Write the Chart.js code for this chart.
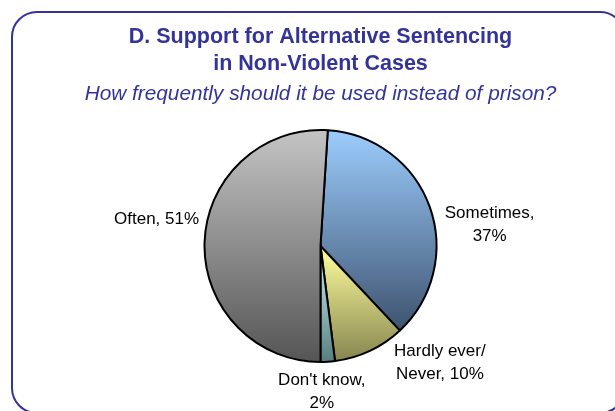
<!DOCTYPE html>
<html>
<head>
<meta charset="utf-8">
<script src="https://cdn.jsdelivr.net/npm/chart.js@4/dist/chart.umd.min.js"></script>
<style>
  html, body { margin:0; padding:0; background:#fff; }
  #wrap { width:615px; height:411px; position:relative; }
</style>
</head>
<body>
<div id="wrap"><canvas id="pie" width="615" height="411"></canvas></div>
<script>
// ── DATA ──
const categories = ['Sometimes', 'Hardly ever/\nNever', "Don't know", 'Often'];
const values = [37, 10, 2, 51];
const valueOnOwnLine = [true, false, true, false];

// ── STYLE ──
const topColors = ['#9CCDFD', '#FFFF9E', '#CFF5F5', '#C4C4C4'];
const bottomColors = ['#3E5370', '#86854F', '#577F7F', '#555555'];
// label block centre, relative to the middle of each slice's outer edge
const labelOffsets = [[60, 18], [70, 12], [-6, 30], [-48, -23]];
const FONT = '"Liberation Sans", Arial, sans-serif';

const frameBox = {
    id: 'frameBox',
    beforeDraw(chart) {
        const ctx = chart.ctx;
        ctx.save();
        ctx.fillStyle = '#fff';
        ctx.fillRect(0, 0, chart.width, chart.height);
        ctx.beginPath();
        ctx.roundRect(12, 12, 613, 401, 25);
        ctx.strokeStyle = '#333399';
        ctx.lineWidth = 2;
        ctx.stroke();
        ctx.restore();
    }
};

// vertical gradient over each slice's own height
const sliceGradients = {
    id: 'sliceGradients',
    beforeDatasetsDraw(chart) {
        const ctx = chart.ctx;
        const TAU = Math.PI * 2;
        chart.getDatasetMeta(0).data.forEach((arc, i) => {
            const {x, y, startAngle, endAngle, outerRadius: r} =
                arc.getProps(['x', 'y', 'startAngle', 'endAngle', 'outerRadius'], true);
            const has = a => {
                let t = a;
                while (t < startAngle) t += TAU;
                while (t - TAU >= startAngle) t -= TAU;
                return t <= endAngle;
            };
            const ys = [y, y + r * Math.sin(startAngle), y + r * Math.sin(endAngle)];
            if (has(-Math.PI / 2)) ys.push(y - r);
            if (has(Math.PI / 2)) ys.push(y + r);
            const g = ctx.createLinearGradient(0, Math.min(...ys), 0, Math.max(...ys));
            g.addColorStop(0, topColors[i]);
            g.addColorStop(1, bottomColors[i]);
            arc.options.backgroundColor = g;
        });
    }
};

const sliceLabels = {
    id: 'sliceLabels',
    afterDatasetsDraw(chart) {
        const ctx = chart.ctx;
        ctx.save();
        ctx.font = '17px ' + FONT;
        ctx.fillStyle = '#000';
        ctx.textAlign = 'center';
        ctx.textBaseline = 'middle';
        const lh = 23;
        chart.getDatasetMeta(0).data.forEach((arc, i) => {
            const {x, y, startAngle, endAngle, outerRadius: r} =
                arc.getProps(['x', 'y', 'startAngle', 'endAngle', 'outerRadius'], true);
            const mid = (startAngle + endAngle) / 2;
            const cx = x + r * Math.cos(mid) + labelOffsets[i][0];
            const cy = y + r * Math.sin(mid) + labelOffsets[i][1];
            const text = categories[i] + ',' + (valueOnOwnLine[i] ? '\n' : ' ') + values[i] + '%';
            const lines = text.split('\n');
            const y0 = cy - (lines.length - 1) * lh / 2;
            lines.forEach((l, k) => ctx.fillText(l, cx, y0 + k * lh));
        });
        ctx.restore();
    }
};

new Chart(document.getElementById('pie'), {
    type: 'pie',
    data: {
        labels: categories.map(c => c.replace('\n', ' ')),
        datasets: [{
            data: values,
            backgroundColor: topColors.slice(),
            borderColor: '#000',
            borderWidth: 2,
            radius: 116
        }]
    },
    options: {
        responsive: false,
        animation: false,
        events: [],
        rotation: 3.6,
        layout: { padding: { left: 26, right: 0, top: 0, bottom: 29 } },
        plugins: {
            legend: { display: false },
            tooltip: { enabled: false },
            title: {
                display: true,
                text: ['D. Support for Alternative Sentencing', 'in Non-Violent Cases'],
                color: '#333399',
                font: { family: FONT, size: 21.5, weight: 'bold', lineHeight: 27 / 21.5 },
                padding: { top: 24, bottom: 0 }
            },
            subtitle: {
                display: true,
                text: 'How frequently should it be used instead of prison?',
                color: '#333399',
                font: { family: FONT, size: 20.8, style: 'italic', lineHeight: 24 / 20.8 },
                padding: { top: 4, bottom: 4 }
            }
        }
    },
    plugins: [frameBox, sliceGradients, sliceLabels]
});
</script>
</body>
</html>
